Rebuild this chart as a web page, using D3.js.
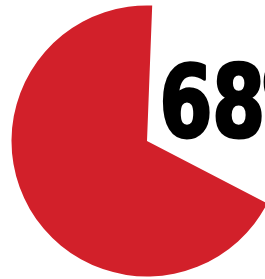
<!DOCTYPE html>
<html>
<head>
<meta charset="utf-8">
<script src="https://cdn.jsdelivr.net/npm/d3@7"></script>
<style>
  html, body { margin: 0; padding: 0; background: #fff; overflow: hidden; }
</style>
</head>
<body>
<div id="chart"></div>
<script>
// Data
const categories = ["Yes", "No"];
const values = [68, 32];
const colors = ["#d2202a", "none"];
const labels = ["68%"];

const W = 265, H = 279;
const svg = d3.select("#chart").append("svg")
  .attr("width", W).attr("height", H);

const cx = 147, cy = 141, r = 135.5;

// Gap (the 32% slice) sits in the upper-right, starting just past 12 o'clock
const gapStart = 2.2 * Math.PI / 180;
const pie = d3.pie().sort(null)
  .startAngle(gapStart + values[1] / 100 * 2 * Math.PI)
  .endAngle(gapStart + values[1] / 100 * 2 * Math.PI + 2 * Math.PI);

const arc = d3.arc().innerRadius(0).outerRadius(r);

const g = svg.append("g").attr("transform", `translate(${cx},${cy})`);
g.selectAll("path")
  .data(pie(values))
  .join("path")
  .attr("d", arc)
  .attr("fill", (d, i) => colors[i]);

const label = labels[0];
const t = svg.append("text")
  .attr("x", 0).attr("y", 0)
  .attr("transform", "translate(159.5,137) scale(0.87,1.02)")
  .attr("font-family", "'DejaVu Sans Condensed', 'DejaVu Sans', sans-serif")
  .attr("font-weight", "bold")
  .attr("font-size", 97)
  .attr("fill", "#000")
  .attr("stroke", "#000")
  .attr("stroke-width", 3)
  .attr("stroke-linejoin", "round");
t.append("tspan").text(label.slice(0, -1));
t.append("tspan").attr("dx", -3).text(label.slice(-1));
</script>
</body>
</html>
